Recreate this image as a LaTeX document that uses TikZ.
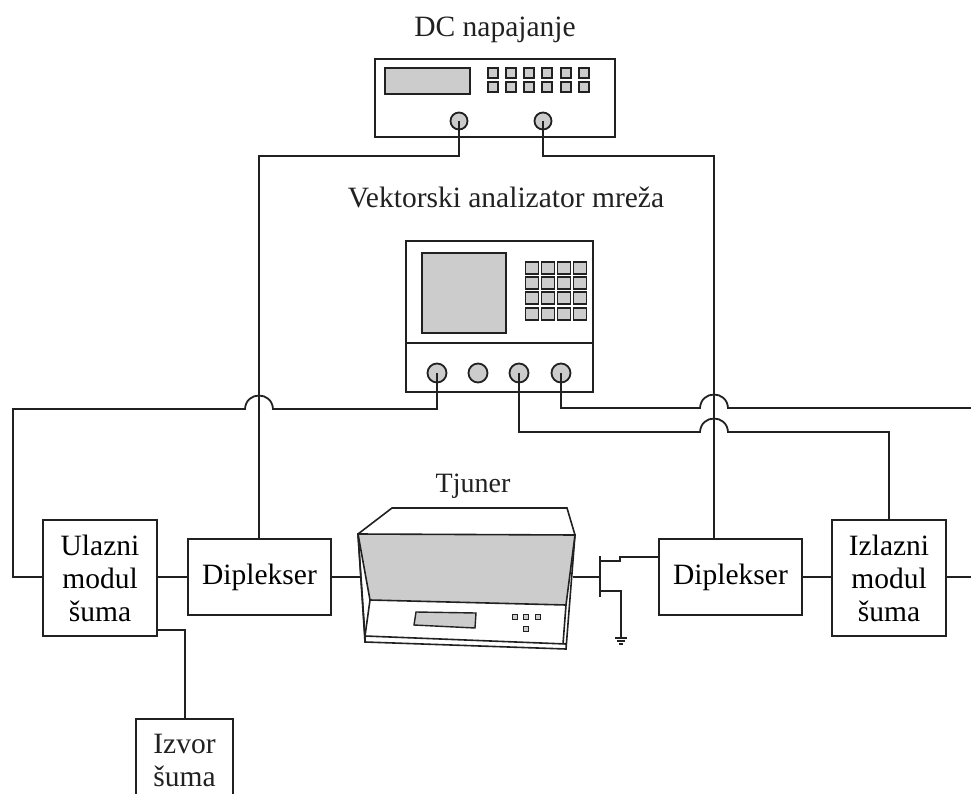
\documentclass[tikz,border=0pt]{standalone}
\usepackage{fontspec}
\setmainfont{Liberation Serif}
\definecolor{panel}{gray}{0.80}
\definecolor{ink}{gray}{0.13}
\tikzset{
  x=1pt,y=-1pt,
  wire/.style={draw=ink,line width=1.6pt},
  thickwire/.style={draw=ink,line width=1.8pt},
  blockbox/.style={draw=ink,line width=1.6pt,fill=white,inner sep=0pt,align=center,font=\fontsize{29.5}{33}\selectfont},
  lbl/.style={inner sep=0pt,font=\fontsize{29.5}{33}\selectfont,text=ink},
  casing/.style={draw=ink,line width=1.6pt,fill=white,inner sep=0pt},
  screen/.style={draw=ink,line width=1.6pt,fill=panel,inner sep=0pt},
  key/.style={draw=ink,line width=1.6pt,fill=panel,inner sep=0pt,minimum width=#1},
  port/.style={circle,draw=ink,line width=1.8pt,fill=panel,inner sep=0pt,minimum size=#1},
}
\begin{document}
\begin{tikzpicture}
\useasboundingbox (0,0) rectangle (971,794);
\clip (0,0) rectangle (971,794);

% --- DC supply
\node[lbl] (dcl) at (495,29.5) {DC napajanje};
\node[casing,minimum width=240pt,minimum height=78pt] (dc) at (495,98) {};
\node[screen,minimum width=85pt,minimum height=26pt] (dcs) at (427.5,81) {};
\foreach \i/\cx in {1/493,2/511,3/529,4/547,5/566,6/584}{
  \node[key=10.5pt,minimum height=10.5pt] (dk\i a) at (\cx,73) {};
  \node[key=10.5pt,minimum height=10.5pt] (dk\i b) at (\cx,87) {};
}
\node[port=17pt] (dp1) at (459,121) {};
\node[port=17pt] (dp2) at (543,121) {};

% --- VNA
\node[lbl] (vl) at (506,197.5) {Vektorski analizator mreža};
\node[casing,minimum width=187pt,minimum height=151pt] (vna) at (499.5,316.5) {};
\coordinate (vdl) at (406,343);
\coordinate (vdr) at (593,343);
\draw[wire] (vdl) -- (vdr);
\node[screen,minimum width=84pt,minimum height=80pt] (vs) at (464,293) {};
\foreach \i/\cx in {1/532,2/548,3/564,4/580}{
  \foreach \j/\cy in {1/268,2/283,3/298,4/314}{
    \node[key=13pt,minimum height=11.5pt] (vk\i\j) at (\cx,\cy) {};
  }
}
\node[port=19pt] (vp1) at (437,373) {};
\node[port=19pt] (vp2) at (478,373) {};
\node[port=19pt] (vp3) at (519,373) {};
\node[port=19pt] (vp4) at (561,373) {};

% --- blocks
\node[blockbox,minimum width=114pt,minimum height=116pt] (ul) at (100,578) {Ulazni\\modul\\šuma};
\node[blockbox,minimum width=143pt,minimum height=76pt] (d1) at (259.5,577) {Diplekser};
\node[blockbox,minimum width=143pt,minimum height=76pt] (d2) at (730.5,577) {Diplekser};
\node[blockbox,minimum width=114pt,minimum height=116pt] (iz) at (889,578) {Izlazni\\modul\\šuma};
\node[blockbox,minimum width=97pt,minimum height=90pt,anchor=north] (sr) at (184.5,718) {};
\node[lbl,align=center,anchor=north] (srt) at (184.5,733.5) {Izvor\\šuma};

% --- tuner
\node[lbl,font=\fontsize{28}{33}\selectfont] (tl) at (473,486) {Tjuner};
\coordinate (tA) at (358,534); \coordinate (tB) at (392,508);
\coordinate (tC) at (567,508); \coordinate (tD) at (575,535);
\coordinate (tE) at (566,605); \coordinate (tF) at (370,600);
\coordinate (tG) at (365,636); \coordinate (tH) at (365,642);
\coordinate (tI) at (566,649); \coordinate (tJ) at (566,644);
\coordinate (tin) at (361,577); \coordinate (tout) at (573,577);
\draw[wire,fill=white] (tA) -- (tB) -- (tC) -- (tD) -- (tI) -- (tH) -- cycle;
\draw[wire,fill=panel] (tA) -- (tD) -- (tE) -- (tF) -- cycle;
\draw[wire] (tF) -- (tG) -- (tJ);
\draw[wire] (tE) -- (563,644);
\draw[wire] (tA) -- (tG);
\draw[wire] (tG) -- (tH);
\draw[thickwire,fill=panel,line width=1.4pt] (416,612) -- (476,613) -- (475,628) -- (414,625) -- cycle;
\foreach \i/\cx/\cy in {1/515/617,2/526/617,3/538/617,4/526/629}{
  \node[key=5.5pt,minimum height=4.5pt,line width=1.4pt] (tk\i) at (\cx,\cy) {};
}

% --- transistor
\coordinate (gt) at (600,556); \coordinate (gb) at (600,597);
\coordinate (gm) at (600,577);
\coordinate (gnd) at (621,638);
\coordinate (dd) at (659,557);
\draw[wire] (gt) -- (gb);
\draw[wire] (600,561) -- (620,561) -- (620,557) -- (dd);
\draw[wire] (600,591) -- (621,591) -- (gnd);
\draw[wire,line width=1.2pt] (615,638) -- (627,638) (617,641) -- (625,641) (619,644) -- (623,644);

% --- horizontal links
\coordinate (lin) at (13,577);
\coordinate (ule) at (157,577);
\coordinate (ulw) at (43,577);
\coordinate (ize) at (946,577);
\coordinate (izw) at (832,577);
\draw[wire] (ule) -- (d1.west);
\draw[wire] (d1.east) -- (tin);
\draw[wire] (tout) -- (gm);
\draw[wire] (d2.east) -- (izw);
\coordinate (redge) at (971,577);
\draw[wire] (ize) -- (redge);

% --- noise source
\coordinate (ulb) at (157,630);
\coordinate (srt0) at (185,718);
\draw[wire] (ulb) -- (185,630) -- (srt0);

% --- DC wires
\coordinate (c1) at (259,156);
\coordinate (c2) at (714,156);
\coordinate (d1t) at (259,539);
\coordinate (d2t) at (714,539);
\draw[wire] (dp1.center) -- (459,156) -- (c1) -- (d1t);
\draw[wire] (dp2.center) -- (543,156) -- (c2) -- (d2t);

% --- VNA wires with jumps
\coordinate (redge2) at (971,408);
\draw[thickwire] (vp1.center) -- (437,409) -- (273,409)
  .. controls (272,391) and (246,391) .. (245,409) -- (13,409) -- (lin) -- (ulw);
\draw[thickwire] (vp4.center) -- (561,408) -- (700,408)
  .. controls (701,390) and (727,390) .. (728,408) -- (redge2);
\draw[thickwire] (vp3.center) -- (519,432) -- (700,432)
  .. controls (701,414) and (727,414) .. (728,432) -- (889,432) -- (iz.north);
\end{tikzpicture}
\end{document}
